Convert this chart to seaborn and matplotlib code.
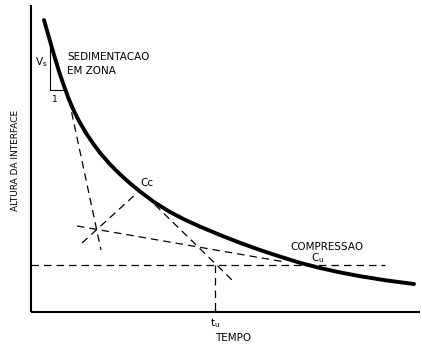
import matplotlib
matplotlib.use("Agg")
import matplotlib.pyplot as plt
import seaborn as sns
import pandas as pd

sns.set_theme(style="white")
plt.rcParams["font.family"] = ["DejaVu Sans"]
plt.rcParams["text.color"] = "black"

# Settling curve: interface height versus time (schematic units)
curve_time = [13, 17, 21, 25, 29, 33, 37, 42, 48, 55, 62, 69, 79, 89, 99, 109,
              124, 139, 154, 169, 189, 209, 229, 249, 269, 289, 309, 329, 356, 383]
curve_height = [292, 278, 264, 250.5, 237.5, 226, 215, 203, 191, 179, 168.6,
                159.2, 147.7, 137.7, 128.7, 120.5, 109.3, 100, 92.2, 85.4,
                77, 69.2, 62, 55.4, 49.2, 44, 39.6, 35.8, 31.5, 28]

# Construction lines (start/end points in the same units)
constr_t0 = [38, 51, 46, 115, 0, 184]
constr_h0 = [212, 69, 86, 116, 47, 47]
constr_t1 = [70, 106, 254, 201, 354, 184]
constr_h1 = [62, 119, 50, 32, 47, 0]

# Slope triangle of the zone-settling rate
tri_t = [19, 19, 33]
tri_h = [267, 222, 222]

fig = plt.figure(figsize=(4.22, 3.47), dpi=100)
ax = fig.add_axes([0, 0, 1, 1])
ax.set_xlim(-31, 391)
ax.set_ylim(-35, 312)
ax.axis("off")

# axes drawn as plain lines from the origin
ax.plot([0, 0], [0, 307], color="black", lw=1.5, solid_capstyle="butt")
ax.plot([0, 389], [0, 0], color="black", lw=1.5, solid_capstyle="butt")

curve = pd.DataFrame({"tempo": curve_time, "altura": curve_height})
sns.lineplot(data=curve, x="tempo", y="altura", ax=ax, color="black",
             lw=2.8, sort=False, estimator=None)

for i in range(len(constr_t0)):
    seg = pd.DataFrame({"t": [constr_t0[i], constr_t1[i]],
                        "h": [constr_h0[i], constr_h1[i]]})
    sns.lineplot(data=seg, x="t", y="h", ax=ax, color="black", lw=0.9,
                 sort=False, estimator=None, linestyle=(0, (6, 4)))

ax.plot(tri_t, tri_h, color="black", lw=0.8)
ax.plot([184, 184], [0, 3], color="black", lw=1)

ax.set_xlabel("")
ax.set_ylabel("")

fs = 7.5
ax.text(10, 250, "$\\mathregular{V_s}$", fontsize=fs, ha="center", va="center")
ax.text(24, 213, "1", fontsize=fs - 1, ha="center", va="center")
ax.text(36, 255, "SEDIMENTACAO", fontsize=fs, ha="left", va="center")
ax.text(36, 241, "EM ZONA", fontsize=fs, ha="left", va="center")
ax.text(116, 129, "Cc", fontsize=fs, ha="center", va="center")
ax.text(296, 65, "COMPRESSAO", fontsize=fs, ha="center", va="center")
ax.text(287, 54, "$\\mathregular{C_u}$", fontsize=fs, ha="center", va="center")
ax.text(184, -11, "$\\mathregular{t_u}$", fontsize=fs, ha="center", va="center")
ax.text(202, -26, "TEMPO", fontsize=fs, ha="center", va="center")
ax.text(-16, 152, "ALTURA DA INTERFACE", fontsize=6.5, ha="center",
        va="center", rotation=90)

fig.savefig("out.png", dpi=100)
